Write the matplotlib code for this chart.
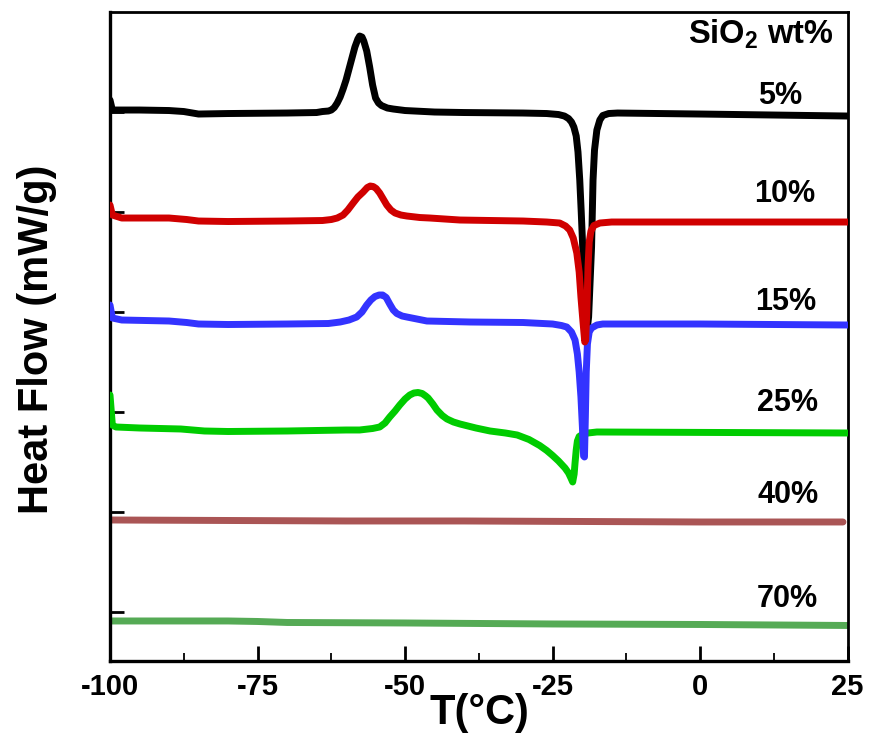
import matplotlib
matplotlib.use("Agg")
import matplotlib.pyplot as plt
from matplotlib.ticker import MultipleLocator

plt.rcParams["font.family"] = ["Liberation Sans", "DejaVu Sans"]
plt.rcParams["font.weight"] = "bold"
plt.rcParams["axes.unicode_minus"] = False
plt.rcParams["mathtext.fontset"] = "custom"
plt.rcParams["mathtext.rm"] = "Liberation Sans:bold"
plt.rcParams["mathtext.bf"] = "Liberation Sans:bold"
plt.rcParams["mathtext.default"] = "rm"

# ---------------------------------------------------------------- data (offset units)
t_5 = [-100, -99.6, -95, -90, -87.5, -86, -85, -80, -70, -65, -64, -63, -62.5, -62, -61.5,
       -61, -60.5, -60, -59.5, -59, -58.5, -58, -57.7, -57.3, -57, -56.5, -56, -55.5, -55,
       -54.5, -54, -53, -52, -50, -45, -40, -30, -26, -24, -23, -22.3, -21.8, -21.4, -21.0,
       -20.7, -20.4, -20.15, -19.9, -19.6, -19.3, -19.1, -18.9, -18.65, -18.4, -18.15,
       -17.9, -17.5, -17.0, -16.5, -15.5, -14, 0, 25]
hf_5 = [5.12, 5.02, 5.02, 5.015, 5.005, 4.99, 4.98, 4.985, 4.99, 4.995, 5.005, 5.01, 5.02, 5.045, 5.09,
        5.15, 5.23, 5.32, 5.43, 5.54, 5.65, 5.73, 5.76, 5.75, 5.71, 5.61, 5.45, 5.27, 5.14,
        5.09, 5.065, 5.04, 5.03, 5.015, 5.00, 4.995, 4.99, 4.985, 4.975, 4.96, 4.935, 4.90, 4.85, 4.76,
        4.60, 4.32, 4.00, 3.65, 3.25, 2.92, 2.85, 2.95, 3.30, 3.65, 4.32,
        4.62, 4.82, 4.92, 4.965, 4.985, 4.99, 4.98, 4.96]

t_10 = [-100, -99.6, -98, -90, -87, -85, -80, -70, -64, -62.5, -61.5, -60.5, -59.7, -58.8, -58,
        -57.1, -56.4, -55.9, -55.4, -54.9, -54.3, -53.7, -53.1, -52.4, -51.7, -50.7, -49.7,
        -47.5, -45.8, -40.7, -30, -26, -23.8, -22.8, -22.1, -21.5, -20.9, -20.5, -20.2,
        -19.85, -19.55, -19.4, -19.2, -19.0, -18.8, -18.5, -18.0, -17.0, -15, 0, 25]
hf_10 = [4.07, 3.97, 3.94, 3.94, 3.925, 3.91, 3.905, 3.91, 3.915, 3.925, 3.94, 3.97, 4.02, 4.09, 4.15,
         4.20, 4.245, 4.26, 4.255, 4.235, 4.19, 4.13, 4.07, 4.02, 3.99, 3.97, 3.96,
         3.945, 3.94, 3.92, 3.91, 3.90, 3.89, 3.86, 3.82, 3.74, 3.59, 3.40, 3.15,
         2.90, 2.70, 2.72, 3.00, 3.45, 3.70, 3.81, 3.865, 3.89, 3.90, 3.90, 3.90]

t_15 = [-100, -99.6, -98, -90, -87, -85, -80, -70, -63, -61, -59.5, -58.2, -57.3, -56.5, -55.8,
        -55.1, -54.4, -53.8, -53.2, -52.6, -52, -51.4, -50.5, -49.7, -48, -46.3, -39, -30,
        -25, -23.5, -22.6, -21.8, -21.2, -20.8, -20.5, -20.2, -19.95, -19.75, -19.6, -19.45,
        -19.3, -19.1, -18.8, -18.4, -17.5, -16.5, 0, 25]
hf_15 = [3.07, 2.94, 2.92, 2.91, 2.895, 2.88, 2.875, 2.88, 2.885, 2.90, 2.92, 2.95, 3.00, 3.07, 3.12,
         3.155, 3.17, 3.17, 3.145, 3.08, 3.02, 2.985, 2.96, 2.95, 2.93, 2.91, 2.90, 2.895,
         2.88, 2.865, 2.85, 2.80, 2.72, 2.58, 2.40, 2.15, 1.85, 1.56, 1.55, 1.95,
         2.40, 2.68, 2.80, 2.84, 2.87, 2.88, 2.88, 2.87]

t_25 = [-100, -99.6, -99, -95, -88, -86, -84, -80, -70, -60, -57.7, -55.5, -54.3, -53.4, -52.6,
        -51.7, -50.9, -50, -49.2, -48.5, -47.8, -47.1, -46.5, -46.1, -45.3, -44.6, -43.7,
        -42.9, -41.8, -40.7, -38, -35.6, -33, -31, -29, -27.2, -26, -25, -24, -22.9,
        -22.3, -21.9, -21.6, -21.35, -21.2, -21.0, -20.8, -20.5, -20.1, -19, -17.5, 25]
hf_25 = [2.17, 1.87, 1.85, 1.84, 1.83, 1.82, 1.81, 1.805, 1.81, 1.82, 1.82, 1.835, 1.85, 1.89, 1.95,
         2.01, 2.07, 2.13, 2.17, 2.19, 2.195, 2.185, 2.16, 2.14, 2.08, 2.02, 1.965,
         1.93, 1.90, 1.88, 1.84, 1.81, 1.79, 1.77, 1.725, 1.665, 1.615, 1.565, 1.51, 1.44,
         1.39, 1.34, 1.30, 1.38, 1.49, 1.62, 1.71, 1.755, 1.77, 1.79, 1.80, 1.79]

t_40 = [-100, -80, -60, -40, -20, 0, 24.2]
hf_40 = [0.92, 0.915, 0.91, 0.91, 0.905, 0.90, 0.90]

t_70 = [-100, -80, -75, -70, -50, -25, 0, 25]
hf_70 = [-0.09, -0.09, -0.095, -0.105, -0.11, -0.12, -0.125, -0.135]

labels = ["5%", "10%", "15%", "25%", "40%", "70%"]
colors = ["black", "#d00000", "#3333ff", "#00cc00", "#aa5555", "#55aa55"]
x_ticks = [-100, -75, -50, -25, 0, 25]
# ----------------------------------------------------------------

fig = plt.figure(figsize=(8.73, 7.43), dpi=100)
ax = fig.add_axes([0.126, 0.1104, 0.845, 0.8734])

series = [(t_5, hf_5), (t_10, hf_10), (t_15, hf_15), (t_25, hf_25), (t_40, hf_40), (t_70, hf_70)]
zorders = [2, 5, 4, 3, 2, 2]
for (t, hf), c, z in zip(series, colors, zorders):
    ax.plot(t, hf, color=c, lw=5, solid_capstyle="round", solid_joinstyle="round", zorder=z)

# curve labels (x in pixel columns of the original, y in data units)
label_pos = [(780, 5.16), (785, 4.18), (786, 3.10), (788, 2.09), (788, 1.17), (788, 0.13)]
for lab, (xp, yv) in zip(labels, label_pos):
    xv = (xp - 110) / 5.904 - 100
    ax.text(xv, yv, lab, ha="center", va="center", fontsize=22, fontweight="bold")
ax.text(0.98, 0.965, "SiO$_2$ wt%", transform=ax.transAxes, ha="right", va="center",
        fontsize=23.5, fontweight="bold")

ax.set_xlim(-100, 25)
ax.set_ylim(-0.49, 6.0)
ax.set_xticks(x_ticks)
ax.set_xticklabels([str(v) for v in x_ticks])
ax.xaxis.set_minor_locator(MultipleLocator(12.5))
ax.set_yticks([0, 1, 2, 3, 4, 5])
ax.set_yticklabels([])

ax.tick_params(axis="x", which="major", direction="in", length=11, width=2, pad=9,
               labelsize=21, top=False)
ax.tick_params(axis="x", which="minor", direction="in", length=6, width=1.3, top=False)
ax.tick_params(axis="y", which="major", direction="in", length=10, width=2, right=False)
for lab in ax.get_xticklabels():
    lab.set_fontweight("bold")

for side in ["left", "bottom"]:
    ax.spines[side].set_linewidth(2.4)
for side in ["top", "right"]:
    ax.spines[side].set_linewidth(2.0)

ax.set_xlabel("T(°C)", fontsize=30, fontweight="bold")
ax.xaxis.set_label_coords(0.501, -0.05)
ax.set_ylabel("Heat Flow (mW/g)", fontsize=30, fontweight="bold")
ax.yaxis.set_label_coords(-0.072, 0.495)

fig.savefig("out.png", dpi=100)
